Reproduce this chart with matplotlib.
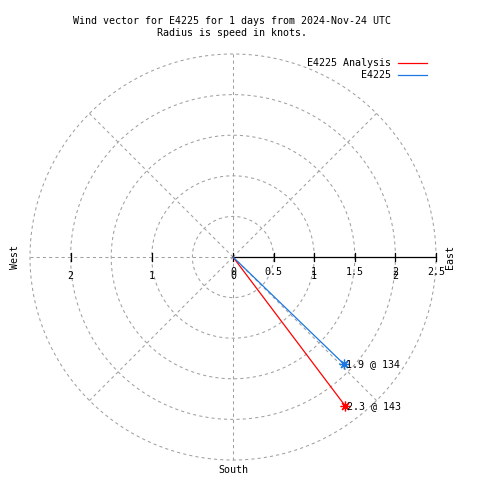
import matplotlib.pyplot as plt
import matplotlib.lines as mlines
import numpy as np

# wind vectors
names = ["E4225 Analysis", "E4225"]
speeds = [2.3, 1.9]          # knots
directions = [143, 134]      # degrees
colors = ["#ff0000", "#1a78e0"]

rings = [0.5, 1, 1.5, 2, 2.5]
east_ticks = [0, 0.5, 1, 1.5, 2, 2.5]
east_labels = ["0", "0.5", "1", "1.5", "2", "2.5"]
grid_labels = [1, 2]

title = "Wind vector for E4225 for 1 days from 2024-Nov-24 UTC\nRadius is speed in knots."

plt.rcParams["font.family"] = ["DejaVu Sans Mono"]
FS = 7.2
grid_col = "#a0a0a0"

fig = plt.figure(figsize=(4.8, 4.8), dpi=100)
ax = fig.add_axes([0, 0, 1, 1])
scale = 81.2  # px per knot
cx, cy = 233, 257
ax.set_xlim(-cx / scale, (480 - cx) / scale)
ax.set_ylim(-(480 - cy) / scale, cy / scale)
ax.set_aspect("equal")
ax.axis("off")

rmax = rings[-1]
# grid circles
t = np.linspace(0, 2 * np.pi, 400)
for r in rings:
    ax.plot(r * np.cos(t), r * np.sin(t), color=grid_col, lw=0.75,
            dashes=(3, 3))
# radial lines
for ang in [45, 90, 135, 180, 225, 270, 315]:
    a = np.radians(ang)
    ax.plot([0, rmax * np.cos(a)], [0, rmax * np.sin(a)], color=grid_col,
            lw=0.75, dashes=(3, 3))

# east axis
ax.plot([0, rmax], [0, 0], color="black", lw=0.9)
tl = 4 / scale
for v, lab in zip(east_ticks, east_labels):
    ax.plot([v, v], [-tl, tl], color="black", lw=0.9)
    ax.text(v, -15 / scale, lab, ha="center", va="center", fontsize=FS)
# west ticks
for v in grid_labels:
    ax.plot([-v, -v], [-tl, tl], color="black", lw=0.9)
# polar grid labels (overlap the axis labels, as in the original)
for v in [0] + grid_labels:
    ax.text(v, -19 / scale, str(v), ha="center", va="center", fontsize=FS)
    if v:
        ax.text(-v, -19 / scale, str(v), ha="center", va="center", fontsize=FS)

# vectors
for s, d, c in zip(speeds, directions, colors):
    x = s * np.sin(np.radians(d))
    y = s * np.cos(np.radians(d))
    ax.plot([0, x], [0, y], color=c, lw=0.9)
    ax.plot(x, y, marker=(8, 2, 0), color=c, ms=7, mew=0.9)
    ax.text(x + 2 / scale, y, f"{s} @ {d}", ha="left", va="center", fontsize=FS)

# compass labels
fig.text(15 / 480, 1 - 257 / 480, "West", rotation=90, ha="center", va="center", fontsize=FS)
fig.text(450 / 480, 1 - 257 / 480, "East", rotation=90, ha="center", va="center", fontsize=FS)
fig.text(233 / 480, 1 - 470 / 480, "South", ha="center", va="center", fontsize=FS)

fig.text(232 / 480, 1 - 27 / 480, title, ha="center", va="center", fontsize=FS,
         linespacing=1.3)

# legend
for i, (n, c) in enumerate(zip(names, colors)):
    y = 1 - (63 + 12 * i) / 480
    fig.text(391 / 480, y, n, ha="right", va="center", fontsize=FS)
    fig.add_artist(mlines.Line2D([398 / 480, 427 / 480], [y, y], color=c, lw=0.9))

plt.savefig("out.png", dpi=100)
